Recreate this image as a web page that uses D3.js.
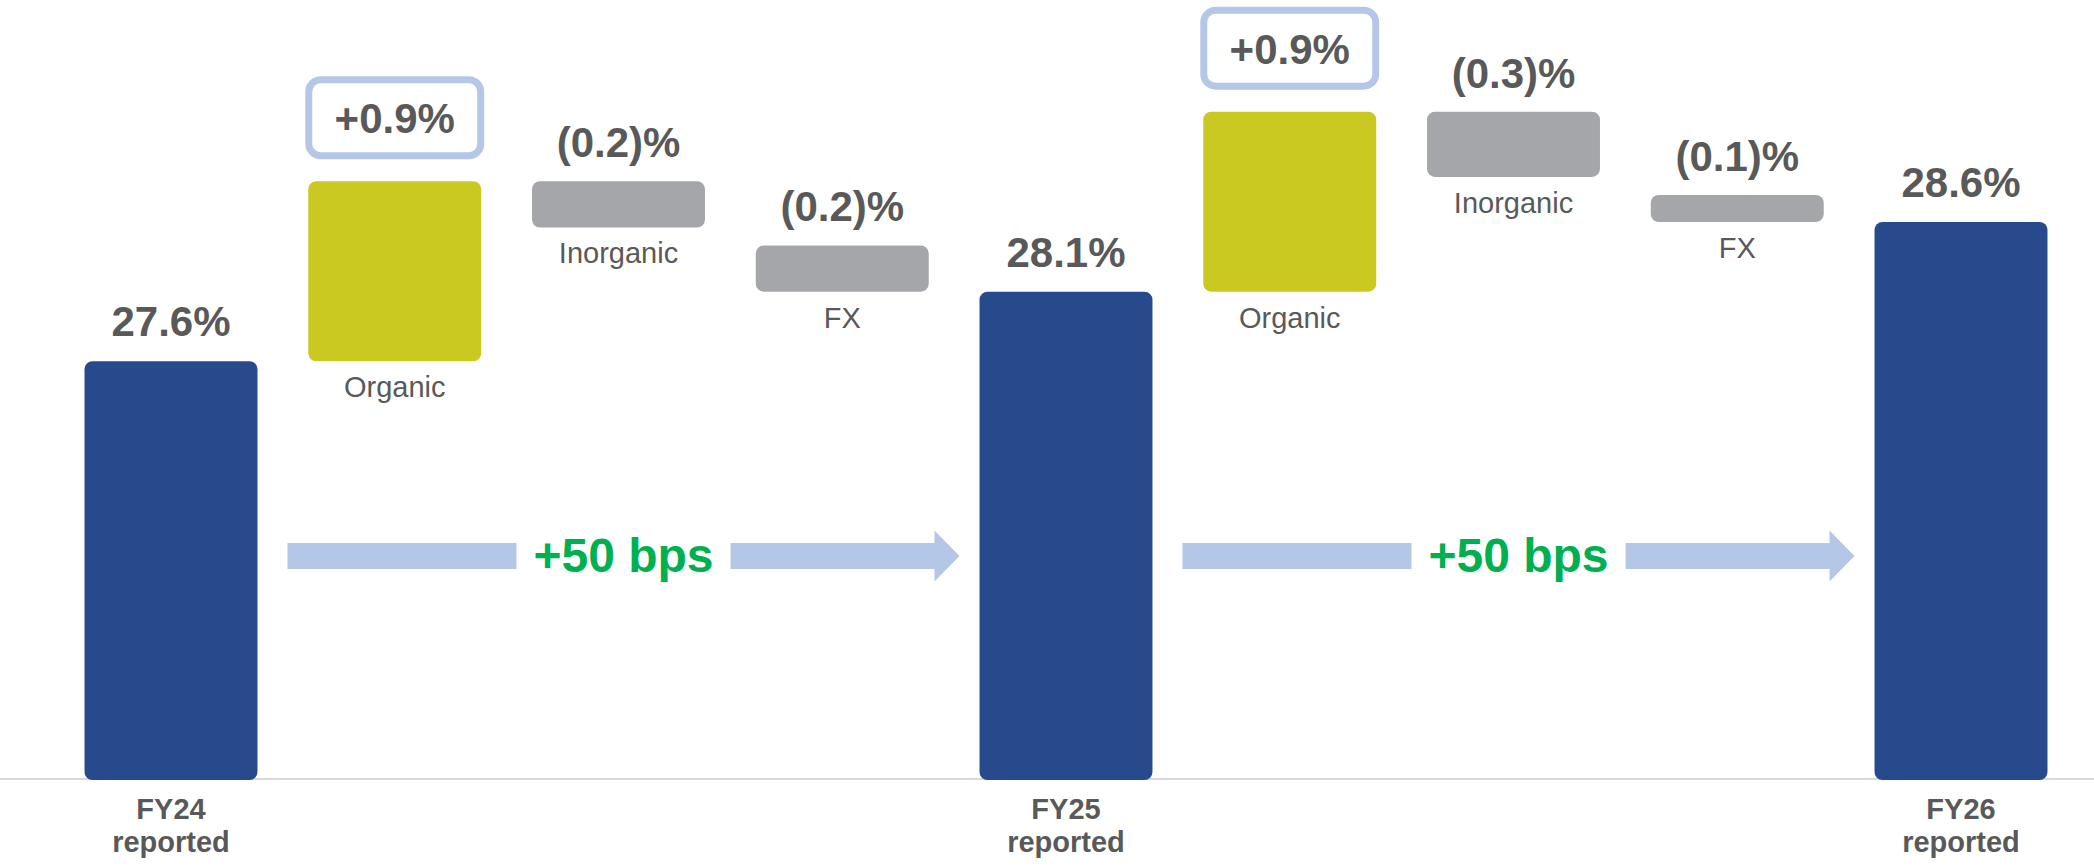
<!DOCTYPE html>
<meta charset="utf-8">
<html>
<head>
    <title>Margin bridge FY24 - FY26</title>
    <style>
        body { margin: 0; background: #fff; }
        text { font-family: "Liberation Sans", Arial, sans-serif; }
    </style>
</head>
<body>
    <script src="https://cdnjs.cloudflare.com/ajax/libs/d3/7.8.5/d3.min.js"></script>
    <script>
        // data
        var steps = ["FY24 reported", "Organic", "Inorganic", "FX", "FY25 reported", "Organic", "Inorganic", "FX", "FY26 reported"];
        var kinds = ["total", "organic", "other", "other", "total", "organic", "other", "other", "total"];
        var values = [27.6, 0.9, -0.2, -0.2, 28.1, 0.9, -0.3, -0.1, 28.6];
        var valueLabels = ["27.6%", "+0.9%", "(0.2)%", "(0.2)%", "28.1%", "+0.9%", "(0.3)%", "(0.1)%", "28.6%"];
        var bridgeFrom = [0, 4];
        var bridgeTo = [4, 8];
        var bridgeLabels = ["+50 bps", "+50 bps"];

        var W = 2094, H = 866;
        var baseY = 779;
        var navy = "#274a8c", olive = "#cac921", grey = "#a5a6a9", txt = "#595959",
            lightBlue = "#b4c7e7", green = "#00b050";

        var svg = d3.select("body").append("svg")
            .attr("width", W)
            .attr("height", H);

        // x: one band per step
        var step = 223.75;
        var x = d3.scaleBand()
            .domain(d3.range(steps.length))
            .range([171 - step / 2, 1961 + step / 2])
            .paddingInner(0.227)
            .paddingOuter(0.1135);
        var bw = x.bandwidth();

        // y for totals (axis is broken, starts near 24.6%)
        var y = d3.scaleLinear().domain([24.6, 28.6]).range([baseY, 222]);
        // deltas are drawn schematically, not on the totals scale
        var d = d3.scaleLinear().domain([0, 0.9]).range([8, 180]);

        // baseline
        svg.append("line")
            .attr("x1", 0).attr("x2", W)
            .attr("y1", baseY).attr("y2", baseY)
            .attr("stroke", "#d9d9d9")
            .attr("stroke-width", 2);

        // bar geometry
        var bars = [];
        var level = 0;
        steps.forEach(function (s, i) {
            var v = values[i], top, bottom;
            if (kinds[i] == "total") {
                top = y(v); bottom = baseY + 1;
                level = top;
            } else if (kinds[i] == "organic") {
                bottom = level; top = level - d(Math.abs(v));
                level = top;
            } else if (kinds[i + 1] == "total") {
                // last step before a total ends on the next total
                bottom = y(values[i + 1]); top = bottom - d(Math.abs(v));
                level = top;
            } else {
                top = level; bottom = level + d(Math.abs(v));
                level = bottom;
            }
            bars.push({ i: i, kind: kinds[i], top: top, bottom: bottom });
        });

        svg.selectAll("rect.bar")
            .data(bars)
            .enter()
            .append("rect")
            .attr("class", "bar")
            .attr("x", function (b) { return x(b.i); })
            .attr("y", function (b) { return b.top; })
            .attr("width", bw)
            .attr("height", function (b) { return b.bottom - b.top; })
            .attr("rx", 8)
            .attr("fill", function (b) {
                return b.kind == "total" ? navy : (b.kind == "organic" ? olive : grey);
            });

        // boxes around organic labels
        bars.filter(function (b) { return b.kind == "organic"; }).forEach(function (b) {
            var boxBottom = b.top - 22;
            svg.append("rect")
                .attr("x", x(b.i) + 0.5)
                .attr("y", boxBottom - 83 + 3.5)
                .attr("width", bw - 1)
                .attr("height", 76)
                .attr("rx", 12)
                .attr("fill", "#fff")
                .attr("stroke", lightBlue)
                .attr("stroke-width", 7);
        });

        // value labels
        svg.selectAll("text.val")
            .data(bars)
            .enter()
            .append("text")
            .attr("class", "val")
            .attr("x", function (b) { return x(b.i) + bw / 2; })
            .attr("y", function (b) {
                if (b.kind == "organic") return b.top - 48;
                if (b.kind == "total") return b.top - 25;
                return b.top - 24;
            })
            .attr("text-anchor", "middle")
            .attr("font-size", 42)
            .attr("font-weight", "bold")
            .attr("fill", txt)
            .text(function (b) { return valueLabels[b.i]; });

        // step names under floating bars
        svg.selectAll("text.name")
            .data(bars.filter(function (b) { return b.kind != "total"; }))
            .enter()
            .append("text")
            .attr("class", "name")
            .attr("x", function (b) { return x(b.i) + bw / 2; })
            .attr("y", function (b) { return b.bottom + 36; })
            .attr("text-anchor", "middle")
            .attr("font-size", 29)
            .attr("fill", txt)
            .text(function (b) { return steps[b.i]; });

        // category labels for totals
        var cat = svg.selectAll("text.cat")
            .data(bars.filter(function (b) { return b.kind == "total"; }))
            .enter()
            .append("text")
            .attr("class", "cat")
            .attr("text-anchor", "middle")
            .attr("font-size", 29)
            .attr("font-weight", "bold")
            .attr("fill", txt);
        cat.each(function (b) {
            var parts = steps[b.i].split(" ");
            var t = d3.select(this);
            parts.forEach(function (p, k) {
                t.append("tspan")
                    .attr("x", x(b.i) + bw / 2)
                    .attr("y", 819 + k * 33)
                    .text(p);
            });
        });

        // +50 bps arrows
        var arrowY = 556, shaftH = 26, headH = 51, headLen = 25;
        bridgeLabels.forEach(function (lab, k) {
            var x0 = x(bridgeFrom[k]) + bw + 30;
            var tip = x(bridgeTo[k]) - 20;
            var cx = (x0 + tip) / 2;
            var g = svg.append("g");
            var t = g.append("text")
                .attr("x", cx)
                .attr("y", arrowY + 16)
                .attr("text-anchor", "middle")
                .attr("font-size", 48)
                .attr("font-weight", "bold")
                .attr("fill", green)
                .text(lab);
            var gap = t.node().getComputedTextLength() / 2 + 17;
            g.insert("rect", "text")
                .attr("x", x0)
                .attr("y", arrowY - shaftH / 2)
                .attr("width", cx - gap - x0)
                .attr("height", shaftH)
                .attr("fill", lightBlue);
            var hx = tip - headLen;
            var pts = [
                [cx + gap, arrowY - shaftH / 2],
                [hx, arrowY - shaftH / 2],
                [hx, arrowY - headH / 2],
                [tip, arrowY],
                [hx, arrowY + headH / 2],
                [hx, arrowY + shaftH / 2],
                [cx + gap, arrowY + shaftH / 2]
            ];
            g.insert("path", "text")
                .attr("d", "M" + pts.join("L") + "Z")
                .attr("fill", lightBlue);
        });
    </script>
</body>
</html>
